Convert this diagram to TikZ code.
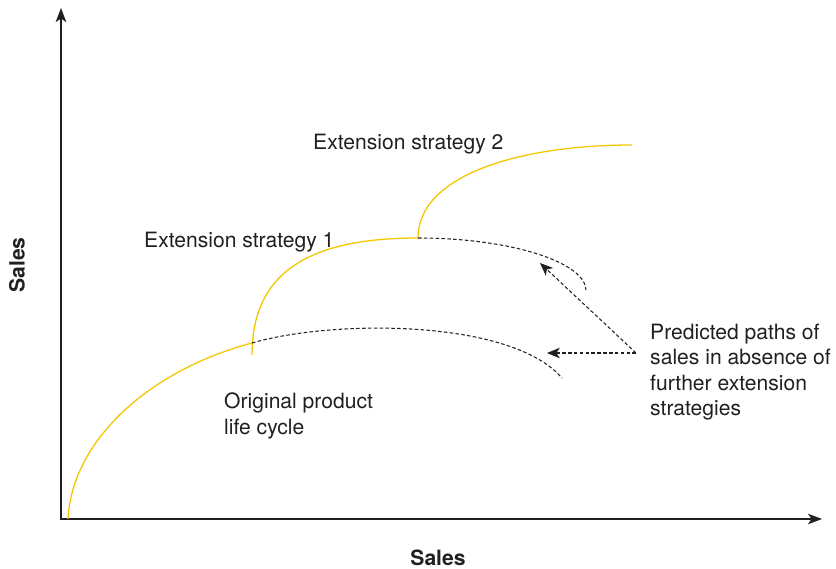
\documentclass[tikz,border=0pt]{standalone}
\usepackage{fontspec}
\setmainfont{TeX Gyre Heros}
\usetikzlibrary{arrows.meta}
\definecolor{lifeyellow}{RGB}{244,198,0}
\definecolor{inkgrey}{RGB}{35,31,32}
\begin{document}
\begin{tikzpicture}[x=0.03cm,y=-0.03cm,
    every node/.style={inner sep=0pt,text=inkgrey,font=\fontsize{18}{21.6}\selectfont},
    axis/.style={line width=1.2pt,draw=inkgrey,{Stealth[length=12pt,width=9pt,inset=3pt]}-{Stealth[length=12pt,width=9pt,inset=3pt]}},
    lifecurve/.style={line width=1.1pt,draw=lifeyellow},
    forecast/.style={line width=0.9pt,draw=inkgrey,dash pattern=on 3pt off 2pt},
    pointer/.style={forecast,-{Stealth[length=11pt,width=9pt,inset=3pt,sep=0pt]}},
    axislabel/.style={font=\fontsize{18}{21.6}\selectfont\bfseries}]
  \useasboundingbox (0,0) rectangle (836,569);

  % axes
  \coordinate (ytop) at (61,8);
  \coordinate (origin) at (61,519);
  \coordinate (xend) at (822,519);
  \draw[axis] (ytop) -- (origin) -- (xend);
  \node[axislabel,rotate=90] (ylabel) at (17,265) {Sales};
  \node[axislabel] (xlabel) at (438,558) {Sales};

  % life cycle and extensions
  \coordinate (launch) at (68,519);
  \coordinate (ext1) at (252,343);
  \coordinate (ext1base) at (252,355);
  \coordinate (ext2) at (418,238);
  \coordinate (plateau) at (632,145);
  \coordinate (fade0) at (562,378);
  \coordinate (fade1) at (586,290);

  \draw[lifecurve] (launch) .. controls (72,440) and (150,370) .. (ext1);
  \draw[lifecurve] (ext1base) .. controls (252,275) and (305,238) .. (ext2);
  \draw[lifecurve] (ext2) .. controls (418,175) and (520,145) .. (plateau);
  \draw[forecast] (ext1) .. controls (330,320) and (510,318) .. (fade0);
  \draw[forecast] (ext2) .. controls (510,238) and (585,262) .. (fade1);

  \node[anchor=base west] (ext2label) at (313,150) {Extension strategy 2};
  \node[anchor=base west] (ext1label) at (144,248) {Extension strategy 1};
  \node[anchor=west,align=left] (origlabel) at (224,416) {Original product\\life cycle};
  \node[anchor=west,align=left] (predlabel) at (650,372)
    {Predicted paths of\\sales in absence of\\further extension\\strategies};

  % pointers to the predicted paths
  \coordinate (fork) at (636,353);
  \coordinate (tip0) at (547,353);
  \coordinate (tip1) at (540,263);
  \draw[pointer] (fork) -- (tip0);
  \draw[pointer] (fork) -- (tip1);
\end{tikzpicture}
\end{document}
